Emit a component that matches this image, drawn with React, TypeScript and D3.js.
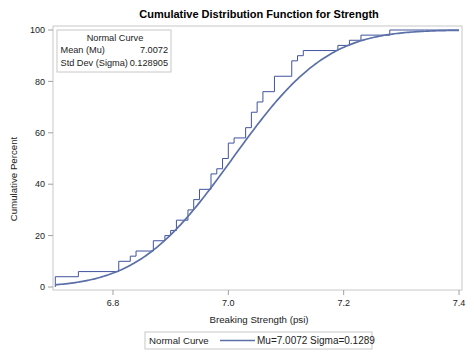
import React from "react";
import * as d3 from "d3";

const strength: number[] = [
  6.94, 6.97, 7.11, 6.95, 7.12, 6.7, 7.13, 7.34, 6.9, 6.83,
  7.06, 6.89, 7.28, 6.93, 7.05, 7.0, 7.04, 7.21, 7.08, 7.01,
  7.05, 7.11, 7.03, 6.98, 7.04, 7.08, 6.87, 6.81, 7.11, 6.74,
  6.95, 7.05, 6.98, 6.94, 7.06, 7.12, 7.19, 7.12, 7.01, 6.84,
  6.91, 6.89, 7.23, 6.98, 6.93, 6.83, 6.99, 7.0, 6.97, 7.01,
];
const mu = 7.0072;
const sigma = 0.128905;
const xTicks = [6.8, 7.0, 7.2, 7.4];
const yTicks = [0, 20, 40, 60, 80, 100];

function erf(x: number): number {
  const s = x < 0 ? -1 : 1;
  const a = Math.abs(x);
  const t = 1 / (1 + 0.3275911 * a);
  const y = 1 - ((((1.061405429 * t - 1.453152027) * t + 1.421413741) * t - 0.284496736) * t + 0.254829592) * t * Math.exp(-a * a);
  return s * y;
}
const normCdf = (x: number) => 50 * (1 + erf((x - mu) / (sigma * Math.SQRT2)));

export default function App() {
  const W = 474, H = 355;
  const fL = 53, fR = 462, fT = 26, fB = 290;
  const x = d3.scaleLinear().domain([6.7, 7.4]).range([55.3, 459]);
  const y = d3.scaleLinear().domain([0, 100]).range([287, 30]);
  const font = "'Liberation Sans', Arial, sans-serif";

  const sorted = [...strength].sort((a, b) => a - b);
  const n = sorted.length;
  const distinct = Array.from(new Set(sorted));
  const ecdf: [number, number][] = [[distinct[0], 0]];
  distinct.forEach((v) => {
    const cnt = sorted.filter((s) => s <= v).length;
    ecdf.push([v, (cnt / n) * 100]);
  });
  ecdf.push([7.4, 100]);
  const stepLine = d3
    .line<[number, number]>()
    .x((d) => x(d[0]))
    .y((d) => y(d[1]))
    .curve(d3.curveStepBefore);

  const xDom = x.domain();
  const curvePts: [number, number][] = d3
    .range(0, 201)
    .map((i) => {
      const v = xDom[0] + ((xDom[1] - xDom[0]) * i) / 200;
      return [v, normCdf(v)] as [number, number];
    });
  const curveLine = d3
    .line<[number, number]>()
    .x((d) => x(d[0]))
    .y((d) => y(d[1]))
    .curve(d3.curveMonotoneX);

  const axisColor = "#a0a0a0";
  const textColor = "#222";

  return (
    <svg width={W} height={H} style={{ position: "absolute", left: 0, top: 0, background: "#fff" }} fontFamily={font}>
      <text x={259} y={18} textAnchor="middle" fontSize={11} fontWeight="bold" fill="#000">
        Cumulative Distribution Function for Strength
      </text>
      <rect x={fL} y={fT} width={fR - fL} height={fB - fT} fill="none" stroke="#c8c8c8" strokeWidth={1} />
      {yTicks.map((t) => (
        <g key={"y" + t}>
          <line x1={fL - 5} x2={fL} y1={y(t)} y2={y(t)} stroke={axisColor} />
          <text x={45} y={y(t) + 3.2} textAnchor="end" fontSize={9} fill={textColor}>
            {t}
          </text>
        </g>
      ))}
      {xTicks.map((t) => (
        <g key={"x" + t}>
          <line x1={x(t)} x2={x(t)} y1={fB} y2={fB + 5} stroke={axisColor} />
          <text x={x(t)} y={306} textAnchor="middle" fontSize={9} fill={textColor}>
            {t.toFixed(1)}
          </text>
        </g>
      ))}
      <text
        transform={`translate(17,179) rotate(-90)`}
        textAnchor="middle"
        fontSize={9.7}
        fill={textColor}
      >
        Cumulative Percent
      </text>
      <text x={259} y={323} textAnchor="middle" fontSize={9.7} fill={textColor}>
        Breaking Strength (psi)
      </text>

      <path d={stepLine(ecdf) || ""} fill="none" stroke="#4153a0" strokeWidth={1} />
      <path d={curveLine(curvePts) || ""} fill="none" stroke="#5b6fa8" strokeWidth={1.7} />

      <rect x={57} y={30} width={114} height={42} fill="#fff" stroke="#c8c8c8" />
      <text x={115} y={41} textAnchor="middle" fontSize={9.2} fill={textColor}>
        Normal Curve
      </text>
      <text x={60.5} y={53} fontSize={9.2} fill={textColor}>Mean (Mu)</text>
      <text x={168} y={53} textAnchor="end" fontSize={9.2} fill={textColor}>{mu.toFixed(4)}</text>
      <text x={60.5} y={65.5} fontSize={9.2} fill={textColor}>Std Dev (Sigma)</text>
      <text x={168} y={65.5} textAnchor="end" fontSize={9.2} fill={textColor}>{sigma.toFixed(6)}</text>

      <rect x={145} y={332} width={227} height={17} fill="#fff" stroke="#c8c8c8" />
      <text x={149} y={344} fontSize={9.7} fill={textColor}>Normal Curve</text>
      <line x1={220} x2={255} y1={340.5} y2={340.5} stroke="#5b6fa8" strokeWidth={1.7} />
      <text x={257} y={344} fontSize={10} fill={textColor}>
        {`Mu=${mu.toFixed(4)} Sigma=${sigma.toFixed(4)}`}
      </text>
    </svg>
  );
}
